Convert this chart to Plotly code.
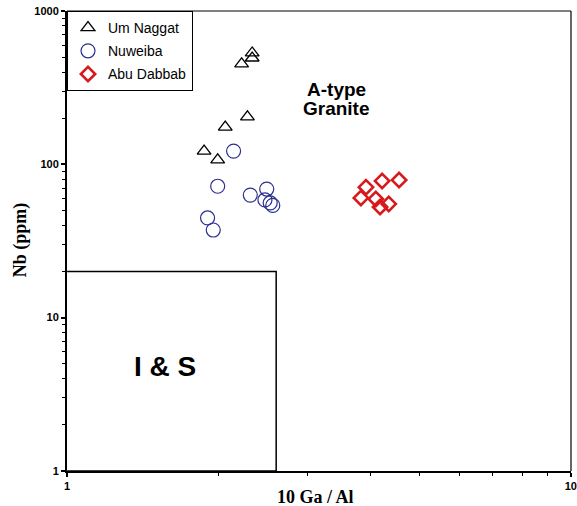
import plotly.graph_objects as go

# --- data (10000*Ga/Al vs Nb ppm) ---
um_naggat_x = [2.33, 2.33, 2.22, 2.28, 2.06, 1.87, 1.99]
um_naggat_y = [533, 494, 452, 204, 175, 122, 107]

nuweiba_x = [2.14, 1.99, 2.31, 2.49, 2.47, 2.53, 2.56, 1.90, 1.95]
nuweiba_y = [122, 72, 63, 69, 58.6, 56, 54, 44.7, 37.3]

abu_dabbab_x = [3.92, 4.22, 4.56, 3.83, 4.10, 4.18, 4.35]
abu_dabbab_y = [71, 78, 79, 60.4, 59.5, 52.7, 55.2]

# I & S field boundary
is_ga_al_max = 2.6
is_nb_max = 20

x_ticks = [1, 10]
y_ticks = [1, 10, 100, 1000]

fig = go.Figure()

# I & S field box
fig.add_trace(go.Scatter(
    x=[1, is_ga_al_max, is_ga_al_max, 1],
    y=[is_nb_max, is_nb_max, 1, 1],
    mode="lines", line=dict(color="black", width=1.5),
    showlegend=False, hoverinfo="skip"))

fig.add_trace(go.Scatter(
    x=um_naggat_x, y=um_naggat_y, mode="markers", name="Um Naggat", legendgroup="a",
    marker=dict(symbol="triangle-up-open", size=12, color="black",
                line=dict(width=1.3, color="black"))))
fig.add_trace(go.Scatter(
    x=nuweiba_x, y=nuweiba_y, mode="markers", name="Nuweiba", legendgroup="b",
    marker=dict(symbol="circle-open", size=14, color="#2b2f8f",
                line=dict(width=1.2, color="#2b2f8f"))))
fig.add_trace(go.Scatter(
    x=abu_dabbab_x, y=abu_dabbab_y, mode="markers", name="Abu Dabbab", legendgroup="c",
    marker=dict(symbol="diamond-open", size=11, color="#d7191c",
                line=dict(width=2.6, color="#d7191c"))))

minor_x = [2, 3, 4, 5, 6, 7, 8, 9]
minor_y = [m * d for d in [1, 10, 100] for m in range(2, 10)]

fig.update_xaxes(
    type="log", range=[-0.0003, 1.0003], automargin=False,
    tickvals=x_ticks, ticktext=[f"<b>{v}</b>" for v in x_ticks],
    ticks="outside", ticklen=4, tickwidth=1.5, tickcolor="black",
    tickfont=dict(family="Liberation Sans, Arial", size=11, color="black"),
    minor=dict(tickvals=minor_x, ticks="outside", ticklen=3, tickcolor="black", tickwidth=1),
    showline=True, linecolor="black", linewidth=2, showgrid=False, zeroline=False)
fig.update_yaxes(
    type="log", range=[-0.0005, 3.0005], automargin=False,
    tickvals=y_ticks, ticktext=[f"<b>{v}</b>" for v in y_ticks],
    ticks="outside", ticklen=4, tickwidth=1.5, tickcolor="black",
    tickfont=dict(family="Liberation Sans, Arial", size=11, color="black"),
    minor=dict(tickvals=minor_y, ticks="outside", ticklen=3, tickcolor="black", tickwidth=1),
    showline=True, linecolor="black", linewidth=2, showgrid=False, zeroline=False)

# top / right frame lines
fig.add_shape(type="line", xref="paper", yref="paper", x0=0, x1=1, y0=1, y1=1,
              line=dict(color="black", width=1.2))
fig.add_shape(type="line", xref="paper", yref="paper", x0=1, x1=1, y0=0, y1=1,
              line=dict(color="black", width=1.2))

# axis titles
fig.add_annotation(xref="paper", yref="paper", x=0.494, y=-0.056,
                   xanchor="center", yanchor="middle",
                   text="<b>10 Ga / Al</b>", showarrow=False,
                   font=dict(family="Liberation Serif, Times New Roman, serif", size=18, color="black"))
fig.add_annotation(xref="paper", yref="paper", x=-0.093, y=0.502, textangle=-90,
                   xanchor="center", yanchor="middle",
                   text="<b>Nb (ppm)</b>", showarrow=False,
                   font=dict(family="Liberation Serif, Times New Roman, serif", size=18, color="black"))

fig.add_annotation(xref="paper", yref="paper", x=0.535, y=0.830,
                   xanchor="center", yanchor="middle",
                   text="<b>A-type</b>", showarrow=False,
                   font=dict(family="Liberation Sans, Arial", size=19, color="black"))
fig.add_annotation(xref="paper", yref="paper", x=0.535, y=0.787,
                   xanchor="center", yanchor="middle",
                   text="<b>Granite</b>", showarrow=False,
                   font=dict(family="Liberation Sans, Arial", size=19, color="black"))
fig.add_annotation(xref="paper", yref="paper", x=0.194, y=0.228,
                   xanchor="center", yanchor="middle",
                   text="<b>I & S</b>", showarrow=False,
                   font=dict(family="Liberation Sans, Arial", size=28, color="black"))

fig.update_layout(
    width=577, height=506,
    margin=dict(l=67, r=6, t=11, b=35, autoexpand=False),
    paper_bgcolor="white", plot_bgcolor="white",
    legend=dict(x=0, y=1, xanchor="left", yanchor="top",
                bgcolor="white", bordercolor="black", borderwidth=1,
                font=dict(family="Liberation Sans, Arial", size=14, color="black"),
                itemwidth=30, tracegroupgap=2),
)

fig.write_html("out.html", config={"displayModeBar": False},
               post_script="document.body.style.margin='0';document.body.style.overflow='hidden';")
